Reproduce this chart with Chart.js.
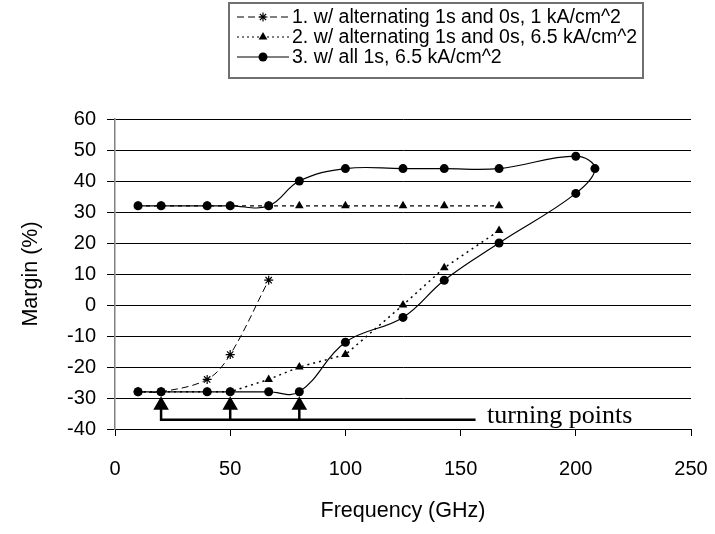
<!DOCTYPE html>
<html>
<head>
<meta charset="utf-8">
<script src="https://cdn.jsdelivr.net/npm/chart.js@4/dist/chart.umd.min.js"></script>
<style>
  html, body { margin: 0; padding: 0; background: #fff; }
  canvas { display: block; }
</style>
</head>
<body>
<canvas id="marginChart" width="715" height="534"></canvas>
<script>
// Margin (%) vs frequency (GHz)

var freqS1 = [10, 20, 40, 50, 66.7];
var marginS1 = [-28, -28, -24, -16, 8];

var freqS2 = [10, 20, 40, 50, 66.7, 80, 100, 125, 142.9, 166.7];
var marginS2Top = [32, 32, 32, 32, 32, 32, 32, 32, 32, 32];
var marginS2Low = [-28, -28, -28, -28, -24, -20, -16, 0, 12, 24];

var freqS3 = [10, 20, 40, 50, 66.7, 80, 100, 125, 142.9, 166.7, 200, 208.3,
              200, 166.7, 142.9, 125, 100, 80, 66.7, 50, 40, 20, 10];
var marginS3 = [32, 32, 32, 32, 32, 40, 44, 44, 44, 44, 48, 44,
                36, 20, 8, -4, -12, -28, -28, -28, -28, -28, -28];

var legendLabels = [
  '1. w/ alternating 1s and 0s, 1 kA/cm^2',
  '2. w/ alternating 1s and 0s, 6.5 kA/cm^2',
  '3. w/ all 1s, 6.5 kA/cm^2'
];

// "turning points" annotation
var turnFreq = [20, 50, 80];
var turnMargin = [-32.3, -32.3, -32.3];
var bracketFreq = [20, 20, 156.5, 50, 50, 50, 80, 80, 80];
var bracketMargin = [-33.5, -37, -37, null, -33.5, -37, null, -33.5, -37];
var turnLabel = 'turning points';

var xTicks = [0, 50, 100, 150, 200, 250];
var yTicks = [-40, -30, -20, -10, 0, 10, 20, 30, 40, 50, 60];

function pts(xs, ys) {
  return xs.map(function (x, i) { return { x: x, y: ys[i] }; });
}

Chart.defaults.font.family = "'Liberation Sans', Arial, sans-serif";
Chart.defaults.color = '#000';

function drawMarker(ctx, style, x, y, r) {
  ctx.save();
  ctx.fillStyle = '#000';
  ctx.strokeStyle = '#000';
  ctx.lineWidth = 1.2;
  ctx.setLineDash([]);
  ctx.beginPath();
  if (style === 'circle') {
    ctx.arc(x, y, r, 0, Math.PI * 2);
    ctx.fill();
  } else if (style === 'triangle') {
    ctx.moveTo(x, y - r);
    ctx.lineTo(x + r * 0.866, y + r * 0.5);
    ctx.lineTo(x - r * 0.866, y + r * 0.5);
    ctx.closePath();
    ctx.fill();
  } else {
    ctx.moveTo(x - r, y); ctx.lineTo(x + r, y);
    ctx.moveTo(x, y - r); ctx.lineTo(x, y + r);
    ctx.moveTo(x - r * 0.7, y - r * 0.7); ctx.lineTo(x + r * 0.7, y + r * 0.7);
    ctx.moveTo(x - r * 0.7, y + r * 0.7); ctx.lineTo(x + r * 0.7, y - r * 0.7);
    ctx.stroke();
  }
  ctx.restore();
}

var extras = {
  id: 'extras',
  afterDraw: function (chart) {
    var ctx = chart.ctx;
    var xs = chart.scales.x, ys = chart.scales.y;

    // turning points label
    ctx.save();
    ctx.font = "26px 'Liberation Serif', 'Times New Roman', serif";
    ctx.fillStyle = '#000';
    ctx.textBaseline = 'alphabetic';
    ctx.textAlign = 'left';
    ctx.fillText(turnLabel, xs.getPixelForValue(161.5), ys.getPixelForValue(-37) + 3);
    ctx.restore();

    // legend box
    ctx.save();
    ctx.strokeStyle = '#707070';
    ctx.lineWidth = 2;
    ctx.strokeRect(229, 3, 414, 75);
    var dashes = [[7, 4], [2, 3], []];
    var markers = ['star', 'triangle', 'circle'];
    var rowY = [17, 37, 57];
    ctx.font = "19.5px 'Liberation Sans', Arial, sans-serif";
    ctx.textBaseline = 'middle';
    for (var i = 0; i < legendLabels.length; i++) {
      ctx.strokeStyle = '#000';
      ctx.lineWidth = 1.2;
      ctx.setLineDash(dashes[i]);
      ctx.beginPath();
      ctx.moveTo(237, rowY[i]);
      ctx.lineTo(289, rowY[i]);
      ctx.stroke();
      ctx.setLineDash([]);
      drawMarker(ctx, markers[i], 263, rowY[i], markers[i] === 'triangle' ? 5 : 4.5);
      ctx.fillStyle = '#000';
      ctx.fillText(legendLabels[i], 292, rowY[i] + 1);
    }
    ctx.restore();
  }
};

var ctx = document.getElementById('marginChart').getContext('2d');
var marginChart = new Chart(ctx, {
  type: 'scatter',
  data: {
    datasets: [{
      label: legendLabels[0],
      data: pts(freqS1, marginS1),
      showLine: true,
      borderColor: '#000',
      backgroundColor: '#000',
      borderWidth: 1,
      borderDash: [7, 4],
      tension: 0.35,
      pointStyle: 'star',
      pointRadius: 4.5,
      pointBorderWidth: 1.2
    }, {
      label: legendLabels[1],
      data: pts(freqS2, marginS2Top),
      showLine: true,
      borderColor: '#000',
      backgroundColor: '#000',
      borderWidth: 1.2,
      borderDash: [4, 4],
      pointStyle: 'triangle',
      pointRadius: 5,
      pointBorderWidth: 0
    }, {
      label: legendLabels[1],
      data: pts(freqS2, marginS2Low),
      showLine: true,
      borderColor: '#000',
      backgroundColor: '#000',
      borderWidth: 1.5,
      borderDash: [2, 4],
      pointStyle: 'triangle',
      pointRadius: 5,
      pointBorderWidth: 0
    }, {
      label: legendLabels[2],
      data: pts(freqS3, marginS3),
      showLine: true,
      borderColor: '#000',
      backgroundColor: '#000',
      borderWidth: 1.2,
      tension: 0.4,
      pointStyle: 'circle',
      pointRadius: 4.5,
      pointBorderWidth: 0
    }, {
      label: 'turning',
      data: pts(turnFreq, turnMargin),
      showLine: false,
      backgroundColor: '#000',
      borderColor: '#000',
      pointStyle: 'triangle',
      pointRadius: 9,
      pointBorderWidth: 0
    }, {
      label: 'bracket',
      data: pts(bracketFreq, bracketMargin),
      showLine: true,
      spanGaps: false,
      borderColor: '#000',
      borderWidth: 2.5,
      pointRadius: 0
    }]
  },
  options: {
    responsive: false,
    animation: false,
    devicePixelRatio: 1,
    layout: { padding: { top: 119, right: 24, left: 0, bottom: 0 } },
    plugins: {
      legend: { display: false },
      tooltip: { enabled: false }
    },
    scales: {
      x: {
        type: 'linear',
        min: 0,
        max: 250,
        afterBuildTicks: function (s) { s.ticks = xTicks.map(function (v) { return { value: v }; }); },
        afterFit: function (s) { s.height = 105; s.paddingLeft = 0; s.paddingRight = 0; },
        ticks: { font: { size: 20 }, padding: 21, maxRotation: 0 },
        grid: { drawOnChartArea: false, drawTicks: true, tickLength: 7, tickColor: '#000' },
        border: { color: '#000', width: 1 },
        title: { display: true, text: 'Frequency (GHz)', font: { size: 21.5 }, padding: { top: 0, bottom: 10 } }
      },
      y: {
        min: -40,
        max: 60,
        afterBuildTicks: function (s) { s.ticks = yTicks.map(function (v) { return { value: v }; }); },
        afterFit: function (s) { s.width = 115; s.paddingTop = 0; s.paddingBottom = 0; },
        ticks: { font: { size: 20 }, padding: 11 },
        grid: { color: '#000', lineWidth: 1, tickLength: 8, tickColor: '#000' },
        border: { color: '#808080', width: 1.5 },
        title: { display: true, text: 'Margin (%)', font: { size: 21.5 }, padding: { top: 18, bottom: 0 } }
      }
    }
  },
  plugins: [extras]
});
</script>
</body>
</html>
